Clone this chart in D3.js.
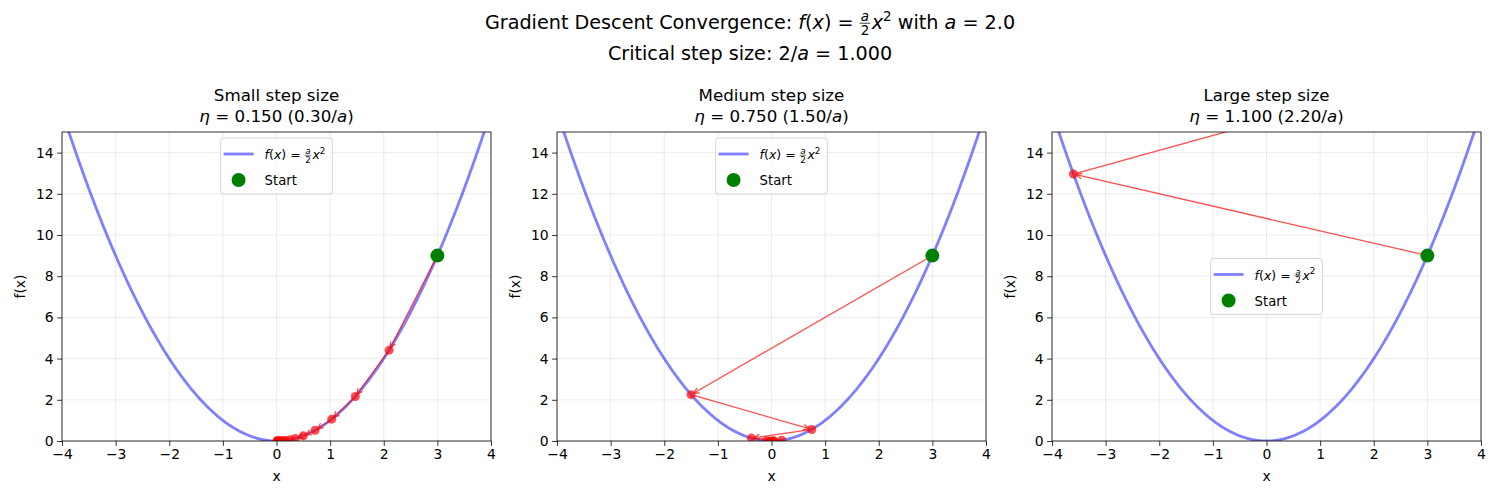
<!DOCTYPE html>
<html>
<head>
<meta charset="utf-8">
<script src="https://cdn.jsdelivr.net/npm/d3@7"></script>
<style>
  body { margin: 0; background: #fff; }
  text { font-family: 'DejaVu Sans', sans-serif; fill: #000; }
</style>
</head>
<body>
<div id="chart"></div>
<script>
// chart values
var a = 2.0
var panelTitles = ['Small step size', 'Medium step size', 'Large step size']
var etaLabels = ['0.150', '0.750', '1.100']
var ratioLabels = ['0.30', '1.50', '2.20']
var legendSpots = ['upper center', 'upper center', 'center']
var xTicks = [-4, -3, -2, -1, 0, 1, 2, 3, 4]
var yTicks = [0, 2, 4, 6, 8, 10, 12, 14]

// iterates (x, f(x))
var smallSteps = [[3.00, 9.00], [2.10, 4.41], [1.47, 2.16], [1.03, 1.06], [0.72, 0.52],
  [0.50, 0.25], [0.35, 0.12], [0.25, 0.06], [0.17, 0.03], [0.12, 0.014], [0.085, 0.007],
  [0.06, 0.004], [0.04, 0.002], [0.03, 0.001], [0.02, 0.0], [0.014, 0.0], [0.01, 0.0]]
var mediumSteps = [[3.00, 9.00], [-1.50, 2.25], [0.75, 0.56], [-0.375, 0.14], [0.19, 0.035],
  [-0.094, 0.009], [0.047, 0.002], [-0.023, 0.0005], [0.012, 0.0001]]
var largeSteps = [[3.00, 9.00], [-3.60, 12.96], [4.32, 18.66]]
var allSteps = [smallSteps, mediumSteps, largeSteps]

var width = 1500, height = 500
var axLeft = [62, 557, 1052], axW = 429, axTop = 132, axH = 309

var svg = d3.select('#chart').append('svg')
  .attr('width', width)
  .attr('height', height)

var defs = svg.append('defs')

// little mathtext helper: lays pieces out left to right
function mathText(sel, x, y, parts, size, anchor) {
  var g = sel.append('g')
  var cx = 0
  parts.forEach(function(p) {
    if (p.frac) {
      var s = size * 0.7
      var n = g.append('text').attr('y', -size * 0.4).style('font-size', s + 'px')
        .style('font-style', 'italic').text(p.frac[0])
      var d = g.append('text').attr('y', size * 0.3).style('font-size', s + 'px').text(p.frac[1])
      var wn = n.node().getComputedTextLength(), wd = d.node().getComputedTextLength()
      var w = Math.max(wn, wd) + size * 0.1
      n.attr('x', cx + (w - wn) / 2)
      d.attr('x', cx + (w - wd) / 2)
      g.append('line').attr('x1', cx).attr('x2', cx + w)
        .attr('y1', -size * 0.3).attr('y2', -size * 0.3)
        .attr('stroke', '#000').attr('stroke-width', size * 0.04)
      cx += w + size * 0.08
    } else {
      var fs = p.sup ? size * 0.7 : size
      var t = g.append('text')
        .attr('x', cx)
        .attr('y', p.sup ? -size * 0.42 : 0)
        .style('font-size', fs + 'px')
        .style('font-style', p.it ? 'italic' : 'normal')
        .text(p.t.replace(/ /g, '\u00a0'))
      cx += t.node().getComputedTextLength()
    }
  })
  var shift = anchor === 'middle' ? cx / 2 : 0
  g.attr('transform', 'translate(' + (x - shift) + ',' + y + ')')
  return cx
}

// figure title
mathText(svg, 750, 29, [
  { t: 'Gradient Descent Convergence: ' }, { t: 'f', it: true }, { t: '(' }, { t: 'x', it: true },
  { t: ') = ' }, { frac: ['a', '2'] }, { t: 'x', it: true }, { t: '2', sup: true },
  { t: ' with ' }, { t: 'a', it: true }, { t: ' = 2.0' }
], 19.2, 'middle')
mathText(svg, 750, 60, [
  { t: 'Critical step size: 2/' }, { t: 'a', it: true }, { t: ' = 1.000' }
], 19.2, 'middle')

var x = d3.scaleLinear().domain([-4, 4]).range([0, axW])
var y = d3.scaleLinear().domain([0, 15]).range([axH, 0])

// curve of f
var curveXs = d3.range(-4, 4.0001, 0.02)
var line = d3.line()
  .x(function(d) { return x(d) })
  .y(function(d) { return y(a / 2 * d * d) })

var red = '#ff0000'

allSteps.forEach(function(steps, i) {
  var g = svg.append('g').attr('transform', 'translate(' + axLeft[i] + ',' + axTop + ')')

  defs.append('clipPath').attr('id', 'clip' + i)
    .append('rect').attr('width', axW).attr('height', axH)

  // titles
  mathText(g, axW / 2, -31, [{ t: panelTitles[i] }], 16.7, 'middle')
  mathText(g, axW / 2, -10, [
    { t: 'η', it: true }, { t: ' = ' + etaLabels[i] + ' (' + ratioLabels[i] + '/' }, { t: 'a', it: true }, { t: ')' }
  ], 16.7, 'middle')

  // grid
  g.append('g').selectAll('line.vx').data(xTicks).enter()
    .append('line')
      .attr('x1', function(d) { return x(d) })
      .attr('x2', function(d) { return x(d) })
      .attr('y1', 0).attr('y2', axH)
      .attr('stroke', '#b0b0b0').attr('stroke-opacity', 0.3).attr('stroke-width', 0.8)
  g.append('g').selectAll('line.hy').data(yTicks).enter()
    .append('line')
      .attr('y1', function(d) { return y(d) })
      .attr('y2', function(d) { return y(d) })
      .attr('x1', 0).attr('x2', axW)
      .attr('stroke', '#b0b0b0').attr('stroke-opacity', 0.3).attr('stroke-width', 0.8)

  var plot = g.append('g').attr('clip-path', 'url(#clip' + i + ')')

  plot.append('path')
    .datum(curveXs)
    .attr('d', line)
    .attr('fill', 'none')
    .attr('stroke', '#0000ff')
    .attr('stroke-opacity', 0.5)
    .attr('stroke-width', 2.8)

  // iterate dots
  plot.selectAll('circle.it').data(steps.slice(1)).enter()
    .append('circle')
      .attr('cx', function(d) { return x(d[0]) })
      .attr('cy', function(d) { return y(d[1]) })
      .attr('r', 4.5)
      .attr('fill', red)
      .attr('fill-opacity', 0.7)

  // arrows between iterates
  var pairs = d3.pairs(steps)
  plot.selectAll('path.arrow').data(pairs).enter()
    .append('path')
      .attr('d', function(p) {
        var x0 = x(p[0][0]), y0 = y(p[0][1]), x1 = x(p[1][0]), y1 = y(p[1][1])
        var dx = x1 - x0, dy = y1 - y0, len = Math.sqrt(dx * dx + dy * dy)
        if (len < 6) return ''
        var ux = dx / len, uy = dy / len, sh = 2.8
        var sx = x0 + ux * sh, sy = y0 + uy * sh, ex = x1 - ux * sh, ey = y1 - uy * sh
        var hl = 5.6, hw = 2.8
        var bx = ex - ux * hl, by = ey - uy * hl
        return 'M' + sx + ',' + sy + 'L' + ex + ',' + ey +
          'M' + (bx - uy * hw) + ',' + (by + ux * hw) + 'L' + ex + ',' + ey +
          'L' + (bx + uy * hw) + ',' + (by - ux * hw)
      })
      .attr('fill', 'none')
      .attr('stroke', red)
      .attr('stroke-opacity', 0.7)
      .attr('stroke-width', 1.3)

  // start point
  plot.append('circle')
    .attr('cx', x(steps[0][0]))
    .attr('cy', y(steps[0][1]))
    .attr('r', 7)
    .attr('fill', '#008000')

  // axes
  var xAxis = g.append('g').attr('transform', 'translate(0,' + axH + ')')
    .call(d3.axisBottom(x).tickValues(xTicks).tickSize(4.9).tickPadding(3.5)
      .tickFormat(function(d) { return d < 0 ? '\u2212' + (-d) : '' + d }))
  var yAxis = g.append('g')
    .call(d3.axisLeft(y).tickValues(yTicks).tickSize(4.9).tickPadding(3.5))
  ;[xAxis, yAxis].forEach(function(ax) {
    ax.select('.domain').remove()
    ax.selectAll('line').attr('stroke', '#000').attr('stroke-width', 0.8)
    ax.selectAll('text').style('font-size', '13.9px').style('font-family', "'DejaVu Sans', sans-serif")
  })

  g.append('rect')
    .attr('width', axW).attr('height', axH)
    .attr('fill', 'none').attr('stroke', '#000').attr('stroke-width', 0.8)

  g.append('text')
    .attr('x', axW / 2).attr('y', axH + 40)
    .attr('text-anchor', 'middle')
    .style('font-size', '13.9px')
    .text('x')
  g.append('text')
    .attr('transform', 'translate(-37,' + (axH / 2) + ') rotate(-90)')
    .attr('text-anchor', 'middle')
    .style('font-size', '13.9px')
    .text('f(x)')

  // legend
  var leg = g.append('g')
  var box = leg.append('rect')
    .attr('fill', '#fff').attr('fill-opacity', 0.8)
    .attr('stroke', '#cccccc').attr('stroke-width', 0.8)
    .attr('rx', 3)
  var tw = mathText(leg, 44, 21, [
    { t: 'f', it: true }, { t: '(' }, { t: 'x', it: true }, { t: ') = ' },
    { frac: ['a', '2'] }, { t: 'x', it: true }, { t: '2', sup: true }
  ], 12.5, 'start')
  var tw2 = mathText(leg, 44, 47, [{ t: 'Start' }], 13.2, 'start')
  leg.append('line').attr('x1', 3).attr('x2', 33).attr('y1', 16).attr('y2', 16)
    .attr('stroke', '#0000ff').attr('stroke-opacity', 0.5).attr('stroke-width', 2.8)
  leg.append('circle').attr('cx', 18).attr('cy', 42).attr('r', 7).attr('fill', '#008000')
  var bw = 44 + Math.max(tw, tw2) + 7, bh = 56
  box.attr('width', bw).attr('height', bh)
  var ly = legendSpots[i] === 'center' ? (axH - bh) / 2 : 6
  leg.attr('transform', 'translate(' + ((axW - bw) / 2) + ',' + ly + ')')
})
</script>
</body>
</html>
